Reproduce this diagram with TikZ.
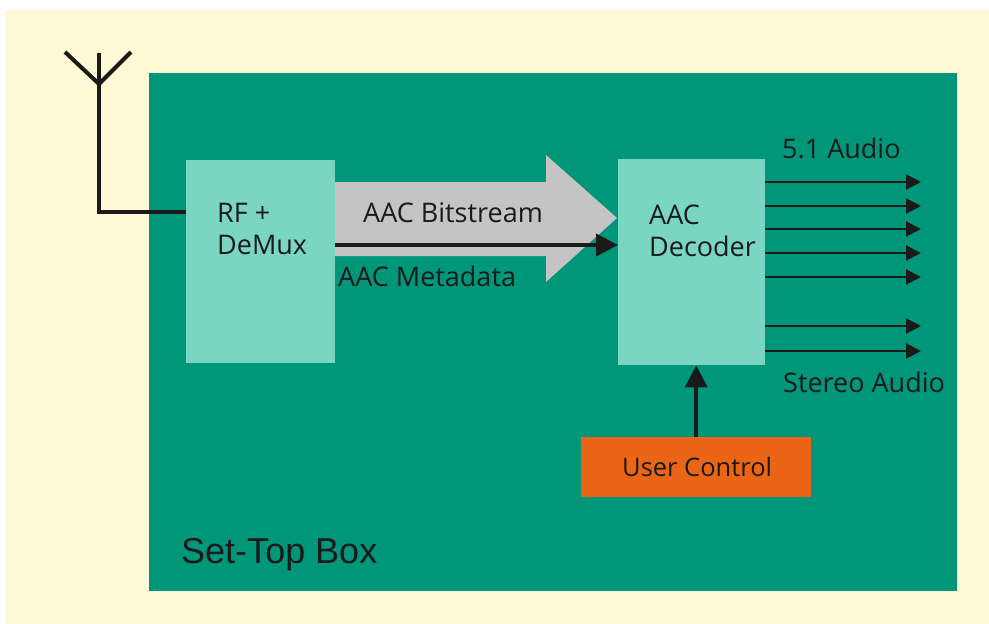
\documentclass[tikz,border=0pt]{standalone}
\usepackage{fontspec}
\setmainfont{Open Sans}
\newfontfamily\labelfont{Liberation Sans}
\usetikzlibrary{arrows.meta}
\definecolor{cream}{RGB}{254,249,212}
\definecolor{boxteal}{RGB}{0,150,122}
\definecolor{lightteal}{RGB}{122,213,194}
\definecolor{flowgrey}{RGB}{196,196,196}
\definecolor{ctrlorange}{RGB}{234,101,22}
\definecolor{ink}{RGB}{26,26,26}
\tikzset{
  block/.style={draw=none, rectangle, inner sep=0pt, anchor=north west},
  txt/.style={inner sep=0pt, anchor=base west, text=ink, font=\fontsize{27}{32}\selectfont},
  wire/.style={draw=ink, line width=4pt},
  outsig/.style={draw=ink, line width=2pt, -{Triangle[length=15pt,width=15pt]}},
  bigsig/.style={draw=ink, line width=4pt, -{Triangle[length=22pt,width=22pt]}}
}
\begin{document}
\begin{tikzpicture}[x=1pt,y=-1pt]
\useasboundingbox (0,0) rectangle (989,624);
% backgrounds
\fill[cream] (6,10) rectangle (989,624);
\node[block, fill=boxteal, minimum width=808pt, minimum height=518pt] (stb) at (149,73) {};
% processing blocks
\node[block, fill=lightteal, minimum width=149pt, minimum height=203pt] (rf) at (186,160) {};
\node[block, fill=lightteal, minimum width=147pt, minimum height=206pt] (dec) at (618,159) {};
\node[block, fill=ctrlorange, minimum width=230pt, minimum height=60pt] (uc) at (581,437) {};
% wide bitstream arrow
\fill[flowgrey] (335,182) -- (546,182) -- (546,155) -- (617,218) -- (546,282) -- (546,256) -- (335,256) -- cycle;
% labels
\node[txt] (rftxt) at (217,222) {RF +};
\node[txt] (rftxt2) at (217,254) {DeMux};
\node[txt] (dectxt) at (649,224) {AAC};
\node[txt] (dectxt2) at (649,256) {Decoder};
\node[txt] (bits) at (363,222) {AAC Bitstream};
\node[txt] (meta) at (338,286) {AAC Metadata};
\node[txt] (five) at (782,158) {5.1 Audio};
\node[txt] (stereo) at (783,392) {Stereo Audio};
\node[txt, font=\fontsize{25.5}{30}\selectfont] (uctxt) at (622,476) {User Control};
\node[txt, font=\labelfont\fontsize{36}{42}\selectfont] (stbtxt) at (181,563) {Set-Top Box};
% antenna
\coordinate (ant) at (99,84);
\coordinate (antl) at (65,52);
\coordinate (antr) at (131,52);
\coordinate (antt) at (99,53);
\coordinate (antb) at (99,212);
\draw[wire] (antl) -- (ant) -- (antr);
\draw[wire] (antt) -- (antb) -- (rf.west |- antb);
% metadata line
\draw[bigsig] (rf.east |- 0,245) -- (dec.west |- 0,245);
% user control
\draw[bigsig] (uc.north) -- (dec.south -| uc.north);
% decoder outputs
\foreach \yy/\nm in {182/a,206/b,229/c,253/d,277/e,326/f,351/g}{
  \coordinate (out\nm) at (921,\yy);
  \draw[outsig] (dec.east |- out\nm) -- (out\nm);
}
\end{tikzpicture}
\end{document}
